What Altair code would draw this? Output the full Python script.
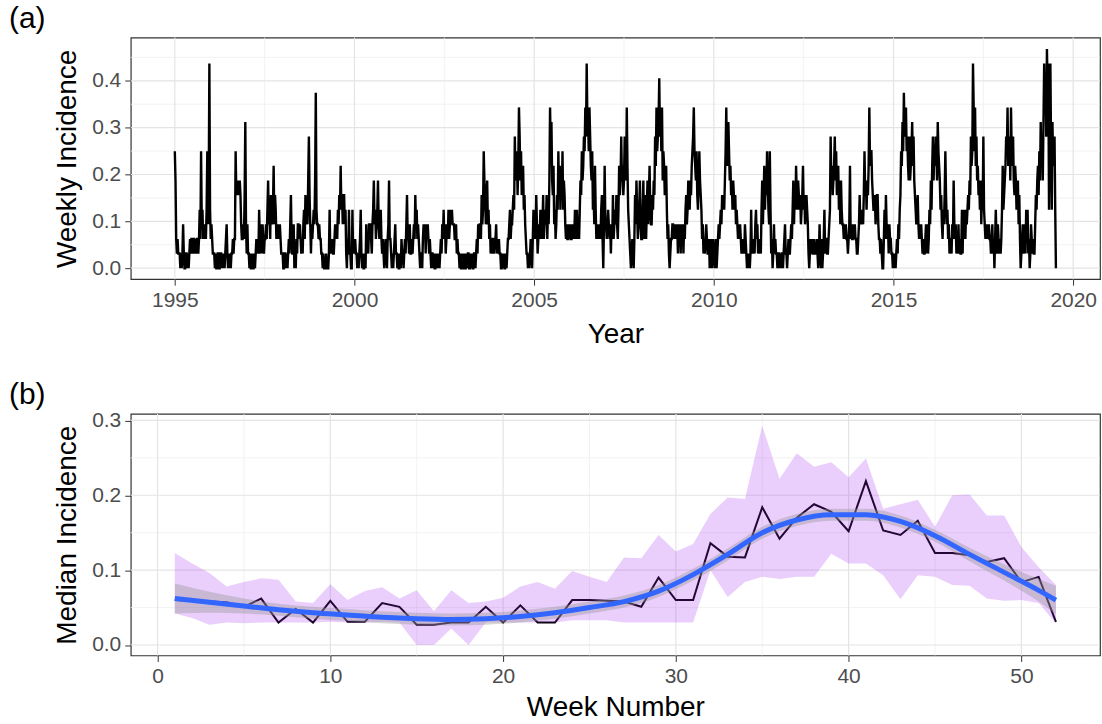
import altair as alt
import pandas as pd

FONT = "Liberation Sans"

# ---------------- Panel (a) data ----------------
# Weekly case counts (one hex digit per week), one string per year.
UNIT = 0.0312  # weekly incidence per counted case (quantum seen on the y axis)
START_YEAR = 1995
year_counts = [
    "8621211101" "0131001101" "0121221221" "2122124283" "4232324835" "e4",  # 1995
    "2321110100" "1100110101" "0123101010" "1121228565" "6565322325" "a3",  # 1996
    "1311010010" "0101212142" "1313212232" "4634254347" "3542323232" "11",  # 1997
    "1001101012" "1352113010" "2133232121" "3425343695" "31323436c4" "33",  # 1998
    "2322110100" "0100014121" "2112323243" "5474535534" "1021411004" "12",  # 1999
    "1211010124" "1010010312" "1333213463" "4234632342" "1210121023" "62",  # 2000
    "2101012311" "0100102110" "1213522131" "1212325342" "3210110232" "31",  # 2001
    "3232121011" "0100101010" "1213242312" "3242343433" "3223121101" "00",  # 2002
    "1001001011" "0010100110" "1213233253" "4865346342" "3121221223" "12",  # 2003
    "1211001010" "0101223423" "3454967857" "b968567453" "2110101210" "24",  # 2004
    "2325312324" "3235234352" "436b8a6573" "4235485746" "5846532322" "32",  # 2005
    "3223232423" "4232465867" "98b9eaa8b9" "7684537423" "2323245203" "73",  # 2006
    "3234323132" "5234353247" "5696756976" "b743210121" "0253642346" "32",  # 2007
    "2462532463" "5743354659" "7b89ad9b8b" "6875674231" "0122332323" "23",  # 2008
    "1323132313" "2453465465" "789b876854" "6865423121" "2321120120" "12",  # 2009
    "1012012323" "43545468b7" "9a86756465" "4534323232" "1212132101" "01",  # 2010
    "0141212134" "2312121463" "5746586438" "4120131211" "0110101101" "23",  # 2011
    "1101211232" "4635475465" "4534574534" "5431012121" "1211121013" "10",  # 2012
    "2012412211" "2349675679" "6856746364" "3323232212" "3723223232" "21",  # 2013
    "1235343435" "8564657b78" "8654453455" "3221210024" "2532313221" "10",  # 2014
    "1010121324" "587a8c9ab8" "9769678a79" "6543453232" "3212112313" "12",  # 2015
    "4364796879" "86a8764532" "4358534231" "2213263231" "2131211414" "24",  # 2016
    "2434546597" "8eb8b79675" "6463549432" "3232322123" "1202421321" "21",  # 2017
    "247456798b" "7896b87965" "7645635201" "2312314241" "2013212113" "54",  # 2018
    "67586a796a" "ebd9fce4be" "84a78940",                                   # 2019
]

year_breaks = [1995, 2000, 2005, 2010, 2015, 2020]
year_minor = [1997.5, 2002.5, 2007.5, 2012.5, 2017.5]
inc_breaks_a = [0.0, 0.1, 0.2, 0.3, 0.4]
inc_minor_a = [0.05, 0.15, 0.25, 0.35, 0.45]

# ---------------- Panel (b) data ----------------
weeks = list(range(1, 53))
median_inc = [0.060, 0.059, 0.058, 0.057, 0.051, 0.062, 0.030, 0.048, 0.030, 0.059,
              0.031, 0.031, 0.056, 0.051, 0.027, 0.027, 0.030, 0.030, 0.051, 0.030,
              0.053, 0.030, 0.030, 0.060, 0.060, 0.059, 0.058, 0.051, 0.090, 0.060,
              0.060, 0.136, 0.118, 0.117, 0.184, 0.142, 0.170, 0.188, 0.178, 0.152,
              0.219, 0.153, 0.147, 0.166, 0.123, 0.123, 0.120, 0.111, 0.116, 0.084,
              0.091, 0.031]
band_low = [0.042, 0.036, 0.027, 0.030, 0.029, 0.030, 0.030, 0.030, 0.030, 0.031,
            0.030, 0.030, 0.031, 0.030, 0.000, 0.000, 0.022, 0.000, 0.030, 0.030,
            0.030, 0.030, 0.030, 0.033, 0.033, 0.033, 0.030, 0.030, 0.030, 0.030,
            0.030, 0.100, 0.064, 0.084, 0.091, 0.088, 0.091, 0.091, 0.122, 0.109,
            0.109, 0.093, 0.061, 0.093, 0.091, 0.080, 0.079, 0.062, 0.059, 0.060,
            0.056, 0.029]
band_high = [0.123, 0.109, 0.096, 0.078, 0.084, 0.089, 0.087, 0.058, 0.056, 0.081,
             0.060, 0.072, 0.077, 0.062, 0.073, 0.045, 0.073, 0.056, 0.058, 0.063,
             0.078, 0.084, 0.075, 0.099, 0.091, 0.084, 0.117, 0.116, 0.147, 0.125,
             0.135, 0.175, 0.197, 0.195, 0.293, 0.222, 0.256, 0.238, 0.244, 0.224,
             0.249, 0.182, 0.188, 0.194, 0.158, 0.200, 0.201, 0.173, 0.173, 0.131,
             0.104, 0.080]
smooth_weeks = [1, 3, 5, 7, 9, 11, 13, 15, 17, 19, 21, 23, 25, 27, 29, 31, 33, 35,
                37, 39, 41, 43, 45, 47, 49, 51, 52]
smooth_inc = [0.062, 0.057, 0.052, 0.047, 0.043, 0.040, 0.037, 0.035, 0.034, 0.035,
              0.038, 0.043, 0.050, 0.058, 0.072, 0.094, 0.121, 0.150, 0.167, 0.174,
              0.174, 0.165, 0.146, 0.121, 0.097, 0.073, 0.060]
se_low = [0.042, 0.043, 0.042, 0.039, 0.035, 0.032, 0.029, 0.027, 0.026, 0.027,
          0.030, 0.035, 0.042, 0.050, 0.064, 0.086, 0.113, 0.142, 0.159, 0.166,
          0.166, 0.157, 0.138, 0.112, 0.086, 0.058, 0.041]
se_high = [0.082, 0.071, 0.062, 0.055, 0.051, 0.048, 0.045, 0.043, 0.042, 0.043,
           0.046, 0.051, 0.058, 0.066, 0.080, 0.102, 0.129, 0.158, 0.175, 0.182,
           0.182, 0.173, 0.154, 0.130, 0.108, 0.088, 0.079]

week_breaks = [0, 10, 20, 30, 40, 50]
week_minor = [5, 15, 25, 35, 45]
inc_breaks_b = [0.0, 0.1, 0.2, 0.3]
inc_minor_b = [0.05, 0.15, 0.25]

# ---------------- build tables ----------------
counts = [int(ch, 16) for s in year_counts for ch in s]
df_a = pd.DataFrame({
    "t": [START_YEAR + i / 52.0 for i in range(len(counts))],
    "inc": [c * UNIT for c in counts],
})
df_b = pd.DataFrame({"week": weeks, "median": median_inc, "lo": band_low, "hi": band_high})
df_s = pd.DataFrame({"week": smooth_weeks, "fit": smooth_inc, "lo": se_low, "hi": se_high})

W, H = 971, 242
MAJOR = "#E4E4E4"
MINOR = "#EFEFEF"


def vrules(vals, xenc_scale, xaxis, color, width):
    return alt.Chart(pd.DataFrame({"v": vals})).mark_rule(color=color, strokeWidth=width).encode(
        x=alt.X("v:Q", scale=xenc_scale, axis=xaxis))


def hrules(vals, yenc_scale, yaxis, color, width):
    return alt.Chart(pd.DataFrame({"v": vals})).mark_rule(color=color, strokeWidth=width).encode(
        y=alt.Y("v:Q", scale=yenc_scale, axis=yaxis))


def tag(label):
    return alt.Chart(pd.DataFrame({"tag": [label]})).mark_text(
        align="left", baseline="top", fontSize=30, font=FONT, color="black"
    ).encode(x=alt.value(-122), y=alt.value(-34), text="tag:N")


# ---------------- panel (a) ----------------
xs_a = alt.Scale(domain=[1993.774, 2020.746], nice=False, zero=False)
ys_a = alt.Scale(domain=[-0.0234, 0.4922], nice=False, zero=False)
xax_a = alt.Axis(title="Year", values=year_breaks, format="d", titlePadding=10)
yax_a = alt.Axis(title="Weekly Incidence", values=inc_breaks_a, format=".1f")

line_a = alt.Chart(df_a).mark_line(color="black", strokeWidth=2.4).encode(
    x=alt.X("t:Q", scale=xs_a, axis=xax_a),
    y=alt.Y("inc:Q", scale=ys_a, axis=yax_a),
)
panel_a = alt.layer(
    vrules(year_minor, xs_a, xax_a, MINOR, 0.8),
    hrules(inc_minor_a, ys_a, yax_a, MINOR, 0.8),
    vrules(year_breaks, xs_a, xax_a, MAJOR, 1.2),
    hrules(inc_breaks_a, ys_a, yax_a, MAJOR, 1.2),
    line_a,
    tag("(a)"),
).properties(width=W, height=H)

# ---------------- panel (b) ----------------
xs_b = alt.Scale(domain=[-1.55, 54.55], nice=False, zero=False)
ys_b = alt.Scale(domain=[-0.0140, 0.3087], nice=False, zero=False)
xax_b = alt.Axis(title="Week Number", values=week_breaks, format="d", titlePadding=7)
yax_b = alt.Axis(title="Median Incidence", values=inc_breaks_b, format=".1f")

median_line = alt.Chart(df_b).mark_line(color="black", strokeWidth=2.0).encode(
    x=alt.X("week:Q", scale=xs_b, axis=xax_b),
    y=alt.Y("median:Q", scale=ys_b, axis=yax_b),
)
band = alt.Chart(df_b).mark_area(color="#A020F0", opacity=0.22).encode(
    x=alt.X("week:Q", scale=xs_b, axis=xax_b),
    y=alt.Y("lo:Q", scale=ys_b, axis=yax_b),
    y2="hi:Q",
)
se_band = alt.Chart(df_s).mark_area(color="#999999", opacity=0.4, interpolate="monotone").encode(
    x=alt.X("week:Q", scale=xs_b, axis=xax_b),
    y=alt.Y("lo:Q", scale=ys_b, axis=yax_b),
    y2="hi:Q",
)
fit_line = alt.Chart(df_s).mark_line(color="#3366FF", strokeWidth=5, interpolate="monotone").encode(
    x=alt.X("week:Q", scale=xs_b, axis=xax_b),
    y=alt.Y("fit:Q", scale=ys_b, axis=yax_b),
)
panel_b = alt.layer(
    vrules(week_minor, xs_b, xax_b, MINOR, 0.8),
    hrules(inc_minor_b, ys_b, yax_b, MINOR, 0.8),
    vrules(week_breaks, xs_b, xax_b, MAJOR, 1.2),
    hrules(inc_breaks_b, ys_b, yax_b, MAJOR, 1.2),
    median_line,
    band,
    se_band,
    fit_line,
    tag("(b)"),
).properties(width=W, height=H)

chart = alt.vconcat(panel_a, panel_b, spacing=30).properties(
    padding={"left": 8, "top": 2, "right": 0, "bottom": 0},
    background="white",
).configure_axis(
    labelFont=FONT, titleFont=FONT, labelFontSize=21, titleFontSize=28,
    labelColor="#4D4D4D", titleColor="black", titleFontWeight="normal",
    tickColor="#333333", tickSize=6, tickWidth=1, labelPadding=4, titlePadding=10,
    domain=False, grid=False,
).configure_view(stroke="#333333", strokeWidth=1.2)

chart.save("out.html", embed_options={"renderer": "svg", "actions": False})
